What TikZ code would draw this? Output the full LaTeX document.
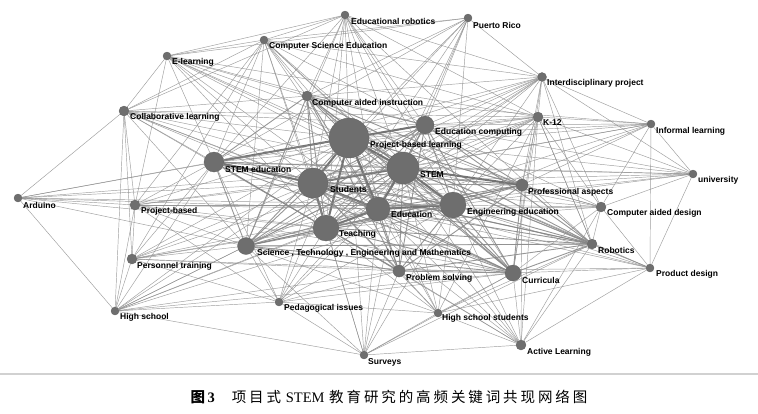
\documentclass[tikz,border=0pt]{standalone}
\usepackage{fontspec}
\newfontfamily\lab{Liberation Sans}
\newfontfamily\cjk[LetterSpace=20]{Noto Sans CJK SC}
\newfontfamily\tms{Liberation Serif}
\pgfdeclarelayer{edgelayer}
\pgfsetlayers{edgelayer,main}
\tikzset{
  kwn/.style={circle, fill=black!57, draw=black!62, line width=0.3pt, inner sep=0pt},
  kwl/.style={anchor=west, inner sep=0pt, text=black, font=\lab\bfseries\fontsize{8.5}{9}\selectfont},
  lk/.style={draw=black!45, line width=0.45pt, opacity=0.85},
  hk/.style={draw=black!48, line width=0.9pt, opacity=0.85},
  tk/.style={draw=black!55, line width=2pt},
}
\newcommand\kw[7]{%
  \node[kwn, minimum size=2*#4pt] (#1) at (#2,#3) {};
  \node[kwl] (#1-l) at (#6,#7) {#5};}
\begin{document}
\begin{tikzpicture}[x=1pt,y=-1pt]
\useasboundingbox (0,0) rectangle (758,413);
\begin{pgfonlayer}{edgelayer}
\fill[white] (0,0) rectangle (758,413);
\end{pgfonlayer}
\kw{er}{345}{15}{4}{Educational robotics}{351}{21}
\kw{pr}{468}{18}{4}{Puerto Rico}{473}{25}
\kw{cse}{264}{40}{4}{Computer Science Education}{269}{46}
\kw{el}{167}{56}{4}{E-learning}{172}{62}
\kw{ip}{542}{77}{4.5}{Interdisciplinary project}{547}{83}
\kw{cai}{307}{96}{5}{Computer aided instruction}{312}{103}
\kw{cl}{124}{111}{5}{Collaborative learning}{130}{117}
\kw{ec}{425}{125}{9}{Education computing}{435}{132}
\kw{k12}{538}{117}{5}{K-12}{543}{123}
\kw{il}{651}{124}{4}{Informal learning}{656}{131}
\kw{pbl}{349}{138}{20}{Project-based learning}{370}{145}
\kw{stemed}{214}{162}{10}{STEM education}{225}{169}
\kw{stem}{403}{168}{16}{STEM}{420}{175}
\kw{stu}{313}{183}{15}{Students}{330}{189}
\kw{uni}{693}{174}{4}{university}{698}{180}
\kw{pa}{522}{185}{6}{Professional aspects}{528}{192}
\kw{ard}{18}{198}{4}{Arduino}{23}{205}
\kw{pb}{135}{205}{5}{Project-based}{141}{211}
\kw{edu}{378}{209}{12}{Education}{391}{214}
\kw{enged}{453}{205}{13}{Engineering education}{467}{212}
\kw{cad}{601}{207}{5}{Computer aided design}{607}{213}
\kw{tea}{326}{228}{13}{Teaching}{339}{234}
\kw{stem4}{246}{246}{8.5}{Science , Technology , Engineering and Mathematics}{257}{253}
\kw{rob}{592}{244}{5}{Robotics}{598}{250}
\kw{pt}{132}{259}{5}{Personnel training}{137}{266}
\kw{ps}{399}{271}{6}{Problem solving}{406}{278}
\kw{cur}{513}{273}{8}{Curricula}{522}{280}
\kw{pd}{650}{268}{4}{Product design}{656}{274}
\kw{hs}{115}{311}{4}{High school}{120}{317}
\kw{pi}{279}{302}{4}{Pedagogical issues}{284}{308}
\kw{hss}{438}{313}{4}{High school students}{442}{318}
\kw{al}{521}{345}{5}{Active Learning}{527}{352}
\kw{sur}{364}{355}{4}{Surveys}{368}{362}
\begin{pgfonlayer}{edgelayer}
% hub mesh
\foreach \a [count=\i] in {pbl,stem,stu,edu,enged,tea,stemed,stem4,ec,cur,cai,pa,ps,rob}{
  \foreach \b [count=\j] in {pbl,stem,stu,edu,enged,tea,stemed,stem4,ec,cur,cai,pa,ps,rob}{
    \ifnum\j>\i \draw[hk] (\a) -- (\b); \fi }}
\foreach \a/\b in {pbl/stem,pbl/stu,stem/stu,pbl/edu,stem/edu,stu/edu,pbl/tea,stu/tea,edu/tea,stem/enged,edu/enged,pbl/ec,stemed/stu,stemed/pbl,stem/pa}
  \draw[tk] (\a) -- (\b);
% peripheral links
\foreach \t in {el,cl,cai,pbl,stem,stu,edu,enged,tea,ec,ip,k12,rob,cur,stem4,stemed,cse}
  \draw[lk] (er) -- (\t);
\foreach \t in {cse,cai,pbl,stem,stu,edu,enged,ec,stemed,tea,ip,el}
  \draw[lk] (pr) -- (\t);
\foreach \t in {el,cl,cai,pbl,stem,stu,edu,enged,tea,ec,stemed,stem4,ip,k12,pb,pt,cur}
  \draw[lk] (cse) -- (\t);
\foreach \t in {cl,pbl,stem,stu,edu,stemed,tea,ec,pb,cai,enged,k12,pa}
  \draw[lk] (el) -- (\t);
\foreach \t in {ard,pb,pt,hs,stemed,pbl,stem,stu,edu,tea,stem4,enged,ec,cai,k12,cur}
  \draw[lk] (cl) -- (\t);
\foreach \t in {pbl,stem,stu,edu,enged,ec,k12,pa,cad,cur,rob,il,tea,stemed,stem4,cai}
  \draw[lk] (ip) -- (\t);
\foreach \t in {il,uni,pbl,stem,stu,edu,enged,ec,pa,cur,rob,cad,tea,stem4,hss,al,stemed}
  \draw[lk] (k12) -- (\t);
\foreach \t in {uni,pd,pbl,stem,stu,edu,ec,enged,stemed,cai,pa,cad}
  \draw[lk] (il) -- (\t);
\foreach \t in {cad,pd,pbl,stem,ec,stu,edu,ip,pa,enged,stemed}
  \draw[lk] (uni) -- (\t);
\foreach \t in {pb,stemed,pbl,stu,edu,enged,hs,stem4,tea,stem}
  \draw[lk] (ard) -- (\t);
\foreach \t in {pt,hs,pbl,stem,stu,edu,enged,tea,stem4,cur,pi,stemed}
  \draw[lk] (pb) -- (\t);
\foreach \t in {pd,rob,pa,enged,stem,pbl,edu,stu,cur,ec,al,tea}
  \draw[lk] (cad) -- (\t);
\foreach \t in {pd,al,hss,k12,stem4,sur}
  \draw[lk] (rob) -- (\t);
\foreach \t in {hs,stemed,pbl,stem,stu,edu,tea,stem4,pi,ps,enged,cur}
  \draw[lk] (pt) -- (\t);
\foreach \t in {al,cur,enged,stem,pbl,edu,hss,ps,stu}
  \draw[lk] (pd) -- (\t);
\foreach \t in {pi,stem4,tea,stu,pbl,stem,stemed,edu,enged,ps,cur,sur}
  \draw[lk] (hs) -- (\t);
\foreach \t in {stem4,tea,stu,pbl,stem,edu,sur,hss,ps,cur,enged,stemed}
  \draw[lk] (pi) -- (\t);
\foreach \t in {ps,cur,al,sur,tea,stu,edu,stem,enged,stem4,pbl}
  \draw[lk] (hss) -- (\t);
\foreach \t in {sur,cur,ps,enged,edu,stem,pbl,tea,stu,pa}
  \draw[lk] (al) -- (\t);
\foreach \t in {cur,ps,tea,stu,edu,stem,pbl,stem4,enged}
  \draw[lk] (sur) -- (\t);
\end{pgfonlayer}
% separator and caption
\draw[black!18, line width=1.2pt] (0,374) -- (758,374);
\node[inner sep=0pt] (cap) at (389,397) {\fontsize{14.5}{16}\selectfont{\cjk\bfseries 图}\,{\tms\bfseries 3}\hspace{17pt}{\cjk 项目式}\ {\tms STEM}\ {\cjk 教育研究的高频关键词共现网络图}};
\end{tikzpicture}
\end{document}
